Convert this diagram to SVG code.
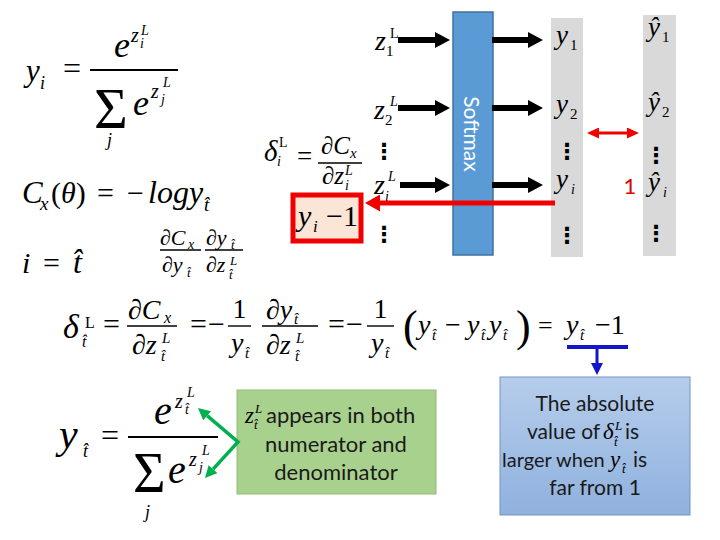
<svg xmlns="http://www.w3.org/2000/svg" width="720" height="540" viewBox="0 0 720 540">
<style>
.mi{font-family:"Liberation Serif","DejaVu Serif",serif;font-style:italic;fill:#000}
.mr{font-family:"Liberation Serif","DejaVu Serif",serif;font-style:normal;fill:#000}
.sans{font-family:Lato,"Liberation Sans",sans-serif}
.dots{font-family:"DejaVu Sans",sans-serif;font-size:22px;font-weight:bold;text-anchor:middle;fill:#000}
.bar{stroke:#000;stroke-width:1.4}
.bar2{stroke:#000;stroke-width:2}
.blk{stroke:#000;stroke-width:6;fill:none}
.note{font-family:Lato,"Liberation Sans",sans-serif;fill:#1a1a1a}
</style>
<defs>
<marker id="hk" markerUnits="userSpaceOnUse" markerWidth="15" markerHeight="16" refX="0" refY="8" orient="auto"><path d="M0,0 L15,8 L0,16z" fill="#000"/></marker>
<marker id="hr" markerUnits="userSpaceOnUse" markerWidth="15" markerHeight="17" refX="0" refY="8.5" orient="auto"><path d="M0,0 L15,8.5 L0,17z" fill="#f00000"/></marker>
<marker id="hr2" markerUnits="userSpaceOnUse" markerWidth="12" markerHeight="11" refX="0" refY="5.5" orient="auto-start-reverse"><path d="M0,0 L12,5.5 L0,11z" fill="#f00000"/></marker>
<marker id="hb" markerUnits="userSpaceOnUse" markerWidth="12" markerHeight="12" refX="0" refY="6" orient="auto"><path d="M0,0 L12,6 L0,12z" fill="#1414c8"/></marker>
<marker id="hg" markerUnits="userSpaceOnUse" markerWidth="12" markerHeight="12" refX="0" refY="6" orient="auto-start-reverse"><path d="M0,0 L12,6 L0,12z" fill="#00b050"/></marker>
<linearGradient id="gb" x1="0" y1="0" x2="0" y2="1"><stop offset="0" stop-color="#b6cdeb"/><stop offset="1" stop-color="#8fb1de"/></linearGradient>
</defs>

<!-- top-left softmax formula -->
<g id="eq-softmax">
<text class="mi" x="26" y="81" font-size="31">y</text>
<text class="mi" x="40" y="89" font-size="18">i</text>
<text class="mr" x="63" y="79" font-size="32">=</text>
<line class="bar2" x1="90" y1="70" x2="178" y2="70"/>
<text class="mi" x="114" y="57" font-size="36">e</text>
<text class="mi" x="131" y="42" font-size="20">z</text>
<text class="mi" x="140" y="48" font-size="14">i</text>
<text class="mi" x="141" y="35" font-size="14">L</text>
<text class="mr" x="94" y="128" font-size="58">Σ</text>
<text class="mi" x="107" y="146" font-size="18">j</text>
<text class="mi" x="133" y="115" font-size="36">e</text>
<text class="mi" x="151" y="98" font-size="20">z</text>
<text class="mi" x="161" y="104" font-size="14">j</text>
<text class="mi" x="163" y="87" font-size="14">L</text>
</g>

<g id="eq-cost">
<text class="mi" x="22" y="203" font-size="31">C</text>
<text class="mi" x="40" y="210" font-size="19">x</text>
<text class="mr" x="51" y="203" font-size="30">(<tspan class="mi">θ</tspan>)</text>
<text class="mr" x="97" y="203" font-size="30">=</text>
<text class="mr" x="127" y="203" font-size="30">−</text>
<text class="mi" x="148" y="203" font-size="32">logy</text>
<text class="mi" x="204" y="211" font-size="19">t̂</text>
</g>

<g id="eq-i-t">
<text class="mi" x="22" y="273" font-size="30">i</text>
<text class="mr" x="43" y="273" font-size="30">=</text>
<text class="mi" x="73" y="273" font-size="32">t̂</text>
</g>

<g id="eq-chain">
<text class="mi" x="160" y="245" font-size="22">∂C</text>
<text class="mi" x="188" y="249" font-size="14">x</text>
<line class="bar" x1="160" y1="250" x2="201" y2="250" stroke-width="1"/>
<text class="mi" x="162" y="272" font-size="22">∂y</text>
<text class="mi" x="187" y="277" font-size="13">t̂</text>
<text class="mi" x="206" y="245" font-size="22">∂y</text>
<text class="mi" x="231" y="249" font-size="13">t̂</text>
<line class="bar" x1="205" y1="250" x2="243" y2="250" stroke-width="1"/>
<text class="mi" x="206" y="272" font-size="22">∂z</text>
<text class="mi" x="230" y="265" font-size="13">L</text>
<text class="mi" x="229" y="279" font-size="13">t̂</text>
</g>

<!-- delta_i definition -->
<g id="eq-delta-i">
<text class="mi" x="264" y="161" font-size="29">δ</text>
<text class="mr" x="279" y="147" font-size="14">L</text>
<text class="mi" x="277" y="166" font-size="14">i</text>
<text class="mr" x="297" y="165" font-size="27">=</text>
<line class="bar" x1="318" y1="163" x2="362" y2="163"/>
<text class="mi" x="321" y="154" font-size="25">∂C</text>
<text class="mi" x="350" y="158" font-size="15">x</text>
<text class="mi" x="322" y="184" font-size="25">∂z</text>
<text class="mi" x="345" y="175" font-size="14">L</text>
<text class="mi" x="345" y="190" font-size="14">i</text>
</g>

<!-- z inputs -->
<g id="z1">
<text class="mi" x="375" y="50" font-size="28">z</text>
<text class="mr" x="386" y="56" font-size="15">1</text>
<text class="mr" x="390" y="38" font-size="14">L</text>
</g>
<g id="z2">
<text class="mi" x="374" y="119" font-size="28">z</text>
<text class="mr" x="385" y="125" font-size="15">2</text>
<text class="mi" x="390" y="106" font-size="14">L</text>
</g>
<g id="zi">
<text class="mi" x="374" y="194" font-size="28">z</text>
<text class="mi" x="385" y="201" font-size="14">i</text>
<text class="mi" x="388" y="181" font-size="14">L</text>
</g>
<g id="zdots">
<text class="dots" x="384" y="159">⋮</text>
<text class="dots" x="384" y="242">⋮</text>
</g>

<!-- softmax -->
<g id="softmax">
<rect x="453" y="12" width="40" height="243" fill="#5b9bd5" stroke="#41719c" stroke-width="1.5"/>
<text class="sans" transform="translate(464,134) rotate(90)" text-anchor="middle" font-size="21" fill="#fff">Softmax</text>
</g>

<!-- outputs column -->
<g id="y-column">
<rect x="551" y="18" width="32" height="239" fill="#d9d9d9"/>
<text class="mi" x="556" y="44" font-size="27">y</text>
<text class="mr" x="570" y="50" font-size="15">1</text>
<text class="mi" x="556" y="113" font-size="27">y</text>
<text class="mr" x="570" y="119" font-size="15">2</text>
<text class="dots" x="567" y="159">⋮</text>
<text class="mi" x="556" y="188" font-size="27">y</text>
<text class="mi" x="571" y="194" font-size="14">i</text>
<text class="dots" x="567" y="243">⋮</text>
</g>

<g id="yhat-column">
<rect x="643" y="15" width="33" height="241" fill="#d9d9d9"/>
<text class="mi" x="648" y="36" font-size="27">ŷ</text>
<text class="mr" x="662" y="42" font-size="15">1</text>
<text class="mi" x="648" y="111" font-size="27">ŷ</text>
<text class="mr" x="662" y="117" font-size="15">2</text>
<text class="dots" x="656" y="163">⋮</text>
<text class="mi" x="648" y="191" font-size="27">ŷ</text>
<text class="mi" x="663" y="197" font-size="14">i</text>
<text class="dots" x="656" y="241">⋮</text>
</g>

<text id="one-label" class="sans" x="630" y="194" font-size="22" text-anchor="middle" fill="#e00000">1</text>

<!-- y_i - 1 box -->
<g id="result-box">
<rect x="293" y="195" width="68" height="46" fill="#fbe5d6" stroke="#f00000" stroke-width="5"/>
<text class="mi" x="298" y="226" font-size="30">y</text>
<text class="mi" x="313" y="232" font-size="17">i</text>
<text class="mr" x="326" y="226" font-size="30">−1</text>
</g>

<!-- main derivation -->
<g id="eq-main">
<text class="mi" x="63" y="338" font-size="34">δ</text>
<text class="mr" x="85" y="328" font-size="16">L</text>
<text class="mi" x="82" y="347" font-size="16">t̂</text>
<text class="mr" x="103" y="334" font-size="30">=</text>
<line class="bar" x1="127" y1="326" x2="177" y2="326"/>
<text class="mi" x="128" y="319" font-size="28">∂C</text>
<text class="mi" x="164" y="323" font-size="16">x</text>
<text class="mi" x="132" y="354" font-size="28">∂z</text>
<text class="mi" x="162" y="343" font-size="15">L</text>
<text class="mi" x="161" y="361" font-size="15">t̂</text>
<text class="mr" x="190" y="334" font-size="30">=</text>
<text class="mr" x="208" y="334" font-size="30">−</text>
<line class="bar" x1="228" y1="326" x2="251" y2="326"/>
<text class="mr" x="239.5" y="318" font-size="28" text-anchor="middle">1</text>
<text class="mi" x="231" y="352" font-size="28">y</text>
<text class="mi" x="245" y="358" font-size="15">t̂</text>
<line class="bar" x1="262" y1="326" x2="318" y2="326"/>
<text class="mi" x="266" y="319" font-size="28">∂y</text>
<text class="mi" x="294" y="324" font-size="15">t̂</text>
<text class="mi" x="266" y="354" font-size="28">∂z</text>
<text class="mi" x="296" y="343" font-size="15">L</text>
<text class="mi" x="295" y="361" font-size="15">t̂</text>
<text class="mr" x="328" y="334" font-size="30">=</text>
<text class="mr" x="346" y="334" font-size="30">−</text>
<line class="bar" x1="367" y1="326" x2="394" y2="326"/>
<text class="mr" x="380.5" y="318" font-size="28" text-anchor="middle">1</text>
<text class="mi" x="371" y="352" font-size="28">y</text>
<text class="mi" x="385" y="358" font-size="15">t̂</text>
<text class="mr" x="403" y="341" font-size="44">(</text>
<text class="mi" x="418" y="334" font-size="28">y</text>
<text class="mi" x="432" y="340" font-size="15">t̂</text>
<text class="mr" x="445" y="334" font-size="28">−</text>
<text class="mi" x="467" y="334" font-size="28">y</text>
<text class="mi" x="481" y="340" font-size="15">t̂</text>
<text class="mi" x="489" y="334" font-size="28">y</text>
<text class="mi" x="503" y="340" font-size="15">t̂</text>
<text class="mr" x="516" y="341" font-size="44">)</text>
<text class="mr" x="538" y="334" font-size="26">=</text>
<text class="mi" x="566" y="334" font-size="28">y</text>
<text class="mi" x="580" y="340" font-size="15">t̂</text>
<text class="mr" x="595" y="334" font-size="28">−1</text>
</g>

<!-- bottom-left formula -->
<g id="eq-yt">
<text class="mi" x="59" y="448" font-size="42">y</text>
<text class="mi" x="83" y="457" font-size="18">t̂</text>
<text class="mr" x="101" y="446" font-size="32">=</text>
<line class="bar2" x1="128" y1="437" x2="218" y2="437"/>
<text class="mi" x="154" y="424" font-size="40">e</text>
<text class="mi" x="175" y="408" font-size="20">z</text>
<text class="mi" x="185" y="414" font-size="14">t̂</text>
<text class="mi" x="187" y="397" font-size="14">L</text>
<text class="mr" x="133" y="492" font-size="56">Σ</text>
<text class="mi" x="145" y="518" font-size="18">j</text>
<text class="mi" x="168" y="483" font-size="40">e</text>
<text class="mi" x="189" y="466" font-size="20">z</text>
<text class="mi" x="199" y="472" font-size="14">j</text>
<text class="mi" x="202" y="455" font-size="14">L</text>
</g>

<!-- green note -->
<g id="note-green">
<rect x="237" y="390" width="199" height="104" fill="#a9d18e" stroke="#92bb76" stroke-width="1"/>
<text class="mi" x="245" y="423" font-size="23">z</text>
<text class="mi" x="255" y="413" font-size="13">L</text>
<text class="mi" x="254" y="429" font-size="13">t̂</text>
<text class="note" x="266" y="423" font-size="22">appears in both</text>
<text class="note" x="336" y="452" font-size="22" text-anchor="middle">numerator and</text>
<text class="note" x="336" y="480" font-size="22" text-anchor="middle">denominator</text>
</g>

<!-- blue note -->
<g id="note-blue">
<rect x="500" y="377" width="190" height="138" fill="url(#gb)" stroke="#7395c6" stroke-width="1"/>
<text class="note" x="595" y="411" font-size="21" text-anchor="middle">The absolute</text>
<text class="note" x="527" y="439" font-size="21">value of</text>
<text class="mi" x="603" y="439" font-size="23">δ</text>
<text class="mi" x="615" y="430" font-size="13">L</text>
<text class="mi" x="614" y="446" font-size="13">t̂</text>
<text class="note" x="625" y="439" font-size="21">is</text>
<text class="note" x="502" y="467" font-size="20">larger when</text>
<text class="mi" x="610" y="467" font-size="23">y</text>
<text class="mi" x="622" y="473" font-size="13">t̂</text>
<text class="note" x="633" y="467" font-size="21">is</text>
<text class="note" x="595" y="495" font-size="21" text-anchor="middle">far from 1</text>
</g>

<!-- connectors -->
<g id="connectors">
<line class="blk" x1="398" y1="40" x2="435" y2="40" marker-end="url(#hk)"/>
<line class="blk" x1="398" y1="108" x2="435" y2="108" marker-end="url(#hk)"/>
<line class="blk" x1="400" y1="185" x2="435" y2="185" marker-end="url(#hk)"/>
<line class="blk" x1="492" y1="40" x2="528" y2="40" marker-end="url(#hk)"/>
<line class="blk" x1="492" y1="108" x2="528" y2="108" marker-end="url(#hk)"/>
<line class="blk" x1="492" y1="185" x2="528" y2="185" marker-end="url(#hk)"/>
<line x1="555" y1="203" x2="380" y2="203" stroke="#f00000" stroke-width="5" marker-end="url(#hr)"/>
<line x1="599" y1="133" x2="627" y2="133" stroke="#f00000" stroke-width="3" marker-start="url(#hr2)" marker-end="url(#hr2)"/>
<line x1="567" y1="347" x2="628" y2="347" stroke="#1414c8" stroke-width="4"/>
<line x1="597" y1="347" x2="597" y2="363" stroke="#1414c8" stroke-width="3" marker-end="url(#hb)"/>
<polyline points="207.1,415.7 238,442 213.1,469.1" fill="none" stroke="#00b050" stroke-width="3.5" marker-start="url(#hg)" marker-end="url(#hg)"/>
</g>
</svg>
